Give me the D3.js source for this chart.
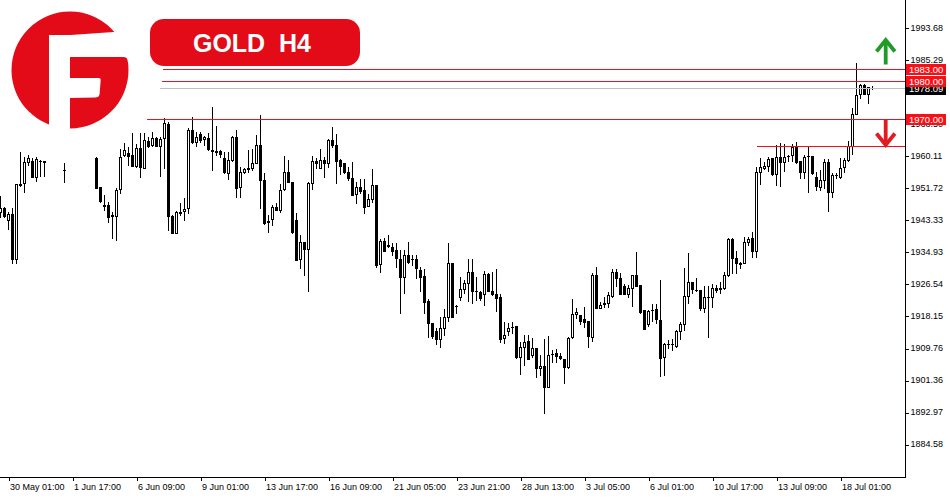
<!DOCTYPE html>
<html><head><meta charset="utf-8">
<script src="https://cdn.jsdelivr.net/npm/d3@7"></script>
<style>html,body{margin:0;padding:0;background:#fff;overflow:hidden}svg{display:block}</style>
</head><body><svg id="c" width="950" height="500"></svg>
<script>
// ---------- DATA ----------
const title = "GOLD  H4";
const firstBar = -2; // bar number of the first entry (bar 0 = 30 May 01:00)
const xTickBars = [0,16,32,48,64,80,96,112,128,144,160,176,192,208];
const xTickLabels = ["30 May 01:00","1 Jun 17:00","6 Jun 09:00","9 Jun 01:00","13 Jun 17:00","16 Jun 09:00","21 Jun 05:00","23 Jun 21:00","28 Jun 13:00","3 Jul 05:00","6 Jul 01:00","10 Jul 17:00","13 Jul 09:00","18 Jul 01:00"];
const yTickValues = [1884.58,1892.97,1901.36,1909.76,1918.15,1926.54,1934.93,1943.33,1951.72,1960.11,1968.50,1976.90,1985.29,1993.68];

const open = [
1945.5,1946.5,1943.4,1945.0,1933.2,1952.6,1953.1,1958.6,1958.8,1954.7,
1958.9,1958.8,null,null,null,null,1956.5,null,null,null,
null,null,null,null,1959.6,1952.0,1947.3,1947.3,1944.6,1944.5,
1951.5,1960.4,1960.9,1960.4,1957.5,1962.3,1957.0,1964.1,1963.0,1964.9,
1962.8,1964.9,1968.5,1944.5,1940.0,1945.5,1945.8,1946.5,1967.0,1963.8,
1965.9,1964.6,1964.9,1961.7,1961.5,1961.5,1959.6,1955.7,1959.1,1965.1,
1952.0,1956.0,1956.8,1957.0,1958.3,1963.0,1953.9,1943.1,1943.7,1946.8,
1946.0,1951.5,1956.0,1953.4,1943.4,1933.2,1937.6,1935.8,1953.1,1958.8,
1957.0,1959.1,1958.3,1964.3,1963.0,1959.1,1958.3,1956.0,1954.4,1950.2,
1952.0,1951.3,1947.1,1948.9,1952.6,1931.9,1937.9,1936.6,1936.3,1935.6,
1933.2,1928.5,1934.2,1933.2,1933.2,1930.3,1928.7,1922.2,1916.4,1914.3,
1912.3,1915.1,1918.0,1932.1,1920.9,1923.2,1925.3,1926.9,1929.8,1924.8,
1924.6,1924.0,1929.3,1924.8,1924.0,1923.2,1912.5,1914.3,1915.4,1915.7,
1907.5,1910.2,1911.7,1908.1,1909.9,1904.7,1905.2,1899.7,1908.3,1908.6,
1907.8,1907.0,1904.9,1912.8,1918.8,1918.5,1917.5,1917.0,1912.8,1929.0,
1920.4,1921.4,1921.7,1923.5,1929.8,1928.2,1926.1,1924.0,1925.6,1929.0,
1926.4,1919.8,1916.2,1919.9,1920.1,1917.2,1907.5,1911.0,1910.9,1910.4,
1914.3,1916.2,1923.5,1927.2,1925.1,1925.1,1920.4,1923.2,1923.2,1925.6,
1925.3,1925.6,1929.0,1938.4,1933.5,1932.1,1932.1,1937.6,1938.7,1935.3,
1956.0,1957.0,1957.5,1959.6,1955.4,1959.9,1958.6,1960.2,1960.4,1962.5,
1958.8,1956.0,1960.2,1960.2,1954.7,1952.0,1953.9,1958.6,1950.7,1955.2,
1954.7,1957.3,1959.1,1962.8,1971.2,1976.4,1978.7,1976.4,1978.0];

const high = [
1949.7,1946.8,1945.5,1946.5,1952.8,1961.2,1959.9,1960.4,1959.6,1959.9,
1959.1,1958.8,null,null,null,null,1958.3,null,null,null,
null,null,null,null,1959.9,1952.0,1949.9,1948.1,1945.5,1951.8,
1962.0,1963.6,1962.5,1966.2,1963.3,1966.2,1966.2,1965.1,1966.4,1965.1,
1965.1,1970.1,1969.1,1944.7,1945.8,1947.9,1949.2,1967.5,1970.4,1966.4,
1966.4,1965.4,1966.2,1973.0,1968.0,1961.7,1961.2,1961.2,1965.4,1967.0,
1957.3,1957.0,1961.7,1962.0,1965.7,1970.9,1955.7,1944.7,1947.3,1947.9,
1952.8,1960.2,1959.1,1953.4,1945.2,1939.5,1937.6,1953.4,1960.2,1959.6,
1962.0,1959.9,1964.6,1967.8,1965.9,1959.4,1958.3,1957.3,1958.6,1953.4,
1954.1,1954.1,1950.2,1956.8,1952.6,1938.4,1938.7,1939.5,1937.4,1937.4,
1935.6,1935.6,1937.6,1934.2,1934.2,1931.1,1930.6,1922.7,1916.4,1915.1,
1918.0,1920.1,1937.4,1932.1,1921.2,1928.5,1927.7,1933.2,1933.2,1928.5,
1924.8,1930.1,1929.5,1929.8,1930.6,1924.0,1916.7,1916.4,1916.7,1915.7,
1911.5,1913.3,1913.3,1912.5,1909.9,1908.1,1912.3,1913.0,1909.4,1909.6,
1908.6,1907.0,1912.8,1922.7,1920.4,1918.5,1920.6,1917.0,1929.5,1931.1,
1921.9,1923.2,1924.6,1930.6,1930.6,1929.5,1926.6,1926.4,1929.0,1935.0,
1926.4,1919.8,1919.8,1921.4,1921.4,1927.7,1911.2,1912.0,1912.3,1914.6,
1916.7,1930.8,1934.8,1927.2,1928.2,1925.1,1926.1,1926.1,1926.6,1926.4,
1927.2,1929.8,1938.7,1938.7,1935.3,1932.4,1939.0,1939.0,1940.3,1957.3,
1959.6,1958.6,1959.9,1959.6,1963.0,1963.6,1963.3,1960.4,1963.3,1963.8,
1958.8,1960.4,1962.5,1960.2,1956.0,1956.5,1959.4,1959.4,1955.7,1955.7,
1959.6,1959.6,1964.1,1972.7,1984.5,1979.0,1979.0,1978.2,1978.6];

const low = [
1944.2,1944.2,1941.0,1932.1,1932.1,1952.3,1950.7,1957.8,1954.7,1953.6,
1954.9,1954.9,null,null,null,null,1953.4,null,null,null,
null,null,null,null,1951.8,1948.1,1946.0,1942.9,1938.7,1938.2,
1950.5,1960.2,1957.8,1957.5,1957.3,1954.7,1957.0,1962.5,1962.8,1962.8,
1954.9,1957.0,1940.8,1940.0,1940.0,1944.7,1943.4,1945.2,1963.6,1962.8,
1963.8,1963.0,1961.7,1956.5,1960.4,1959.9,1955.7,1954.1,1958.8,1949.4,
1949.4,1955.7,1956.0,1956.5,1958.3,1946.5,1942.4,1940.3,1942.1,1946.0,
1945.5,1951.3,1953.4,1940.0,1932.9,1930.8,1929.0,1924.8,1951.5,1957.0,
1957.0,1954.7,1957.3,1962.5,1953.1,1955.4,1955.7,1953.9,1949.9,1947.9,
1950.5,1945.2,1947.1,1948.1,1931.1,1929.8,1935.3,1936.3,1934.2,1931.1,
1919.1,1924.3,1932.1,1931.6,1928.2,1924.8,1919.1,1912.8,1912.5,1910.9,
1910.2,1913.3,1917.0,1918.0,1919.1,1922.5,1924.3,1922.2,1921.7,1922.5,
1922.5,1921.2,1924.8,1923.8,1919.6,1911.5,1911.2,1913.3,1913.8,1907.3,
1903.1,1905.4,1907.0,1907.5,1902.3,1902.8,1892.9,1899.7,1906.2,1906.2,
1907.0,1900.7,1904.7,1912.5,1917.7,1916.2,1915.4,1910.2,1911.7,1920.4,
1920.4,1920.6,1920.6,1923.2,1926.1,1924.0,1924.0,1923.2,1920.9,1926.1,
1919.1,1914.9,1915.7,1917.0,1916.4,1902.6,1902.8,1909.9,1909.4,1910.2,
1912.3,1914.6,1921.7,1924.3,1924.8,1919.8,1919.3,1912.8,1920.6,1924.6,
1924.3,1925.3,1928.7,1929.5,1929.5,1930.8,1932.1,1936.9,1933.7,1933.7,
1952.8,1956.8,1956.2,1955.2,1952.6,1952.3,1956.2,1958.8,1958.8,1958.3,
1954.4,1954.4,1950.7,1955.4,1951.3,1951.3,1951.8,1945.8,1949.4,1954.4,
1954.4,1956.0,1958.8,1960.7,1971.2,1975.3,1976.4,1974.0,1977.7];

const close = [
1946.5,1944.5,1945.0,1933.2,1952.8,1952.8,1958.6,1959.6,1954.7,1959.4,
1958.8,1958.7,null,null,null,null,1956.4,null,null,null,
null,null,null,null,1951.8,1948.4,1947.2,1944.2,1944.5,1951.3,
1959.9,1961.7,1960.2,1957.5,1962.3,1957.3,1964.3,1962.8,1964.9,1962.8,
1964.6,1968.8,1944.5,1940.0,1945.5,1945.3,1946.3,1967.0,1963.8,1965.1,
1964.3,1965.1,1962.0,1961.6,1961.2,1960.7,1956.0,1959.1,1965.1,1951.8,
1956.0,1956.8,1957.0,1958.3,1963.0,1953.9,1942.6,1942.9,1946.8,1946.0,
1951.3,1956.0,1953.4,1940.3,1932.9,1937.6,1935.8,1953.1,1958.8,1958.3,
1959.1,1958.3,1964.3,1963.0,1958.8,1957.5,1956.0,1954.4,1949.9,1952.0,
1951.0,1946.8,1948.9,1952.6,1931.6,1937.9,1935.3,1936.9,1935.3,1933.5,
1928.5,1934.2,1932.4,1933.1,1930.8,1928.5,1921.9,1916.4,1913.0,1912.3,
1915.1,1918.0,1932.1,1918.0,1920.8,1925.3,1926.9,1929.8,1924.8,1924.7,
1923.0,1929.3,1924.8,1924.0,1923.0,1912.3,1913.3,1915.1,1915.5,1907.5,
1910.2,1911.5,1907.0,1909.9,1904.7,1905.2,1899.7,1908.1,1908.2,1907.8,
1907.3,1904.9,1912.5,1918.8,1919.3,1917.0,1916.7,1913.0,1929.0,1920.4,
1921.2,1921.7,1923.8,1929.8,1928.2,1924.0,1924.0,1925.6,1929.0,1926.1,
1919.3,1914.9,1919.6,1919.8,1917.5,1907.3,1910.9,1910.9,1911.0,1914.3,
1916.2,1923.5,1927.2,1925.3,1925.0,1920.4,1923.2,1923.3,1925.6,1925.1,
1925.6,1929.0,1938.4,1933.5,1932.1,1932.0,1937.6,1938.4,1935.3,1956.0,
1957.3,1957.5,1959.4,1955.4,1959.9,1958.6,1959.9,1960.1,1962.5,1958.6,
1956.0,1959.9,1960.1,1955.7,1952.3,1953.9,1958.6,1950.7,1955.2,1955.1,
1957.0,1959.1,1962.8,1971.2,1976.1,1978.7,1976.4,1978.2,1978.09];

const levelPrices = [1983.00, 1980.00, 1970.00];
const bidPrice = 1978.09;
const zonePrice = 1962.9;

// ---------- DRAWING ----------
const RED = "#e30b17", BOXRED = "#f80f17";
const FONT = "'Liberation Sans', Arial, sans-serif";
const svg = d3.select("#c");
svg.append("rect").attr("width",950).attr("height",500).attr("fill","#fff");

const x = d3.scaleLinear().domain([0, 208]).range([8.5, 840.5]);
const y = d3.scaleLinear().domain([1884.58, 1960.11]).range([444.7, 156.2]);
const AXIS_X = 905.5, AXIS_Y = 477.5;

// Logo
const logo = svg.append("g");
logo.append("circle").attr("cx",70).attr("cy",70).attr("r",58.5).attr("fill",RED);
logo.append("rect").attr("x",49).attr("y",35).attr("width",21).attr("height",100).attr("fill","#fff");
logo.append("path").attr("d","M49,36.5 L135,30.5 L135,57 L49,57 Z").attr("fill","#fff");
logo.append("path").attr("d","M69,78 L99,78 Q101,78 100.6,81 L99.6,94 Q99.2,97.5 95,97.6 L69,98 Z").attr("fill","#fff");
logo.append("path").attr("d","M123,57 L128,57 L128,62 Q128,57 123,57 Z").attr("fill","#fff");

// Title
svg.append("rect").attr("x",150).attr("y",19).attr("width",210).attr("height",47).attr("rx",14).attr("fill",RED);
svg.append("text").attr("x",252).attr("y",52).attr("text-anchor","middle")
  .attr("font-family",FONT).attr("font-weight","bold").attr("font-size",25)
  .attr("fill","#fff").style("white-space","pre").text(title);

// Candles
const bars = open.map((o,i)=>({n:i+firstBar,o:o,h:high[i],l:low[i],c:close[i]})).filter(d=>d.o!=null);
const cg = svg.append("g").attr("shape-rendering","crispEdges");
bars.forEach(d=>{
  const cx = x(d.n);
  cg.append("line").attr("x1",cx).attr("x2",cx)
    .attr("y1",Math.round(y(d.h))).attr("y2",Math.round(y(d.l))+1)
    .attr("stroke","#000").attr("stroke-width",1);
  const top = Math.round(y(Math.max(d.o,d.c))), bot = Math.round(y(Math.min(d.o,d.c)));
  if (bot - top < 1) {
    cg.append("line").attr("x1",cx-1.5).attr("x2",cx+1.5).attr("y1",top+0.5).attr("y2",top+0.5)
      .attr("stroke","#000").attr("stroke-width",1);
  } else {
    cg.append("rect").attr("x",cx-1).attr("y",top+0.5).attr("width",2).attr("height",bot-top)
      .attr("fill", d.c>=d.o ? "#fff" : "#000").attr("stroke","#000").attr("stroke-width",1);
  }
});

// Horizontal levels
const lg = svg.append("g").attr("shape-rendering","crispEdges");
const py = p => Math.ceil(y(p)) + 0.5;
const levelStarts = [163,162,147];
levelPrices.forEach((p,i)=>{
  lg.append("line").attr("x1",levelStarts[i]).attr("x2",AXIS_X).attr("y1",py(p)).attr("y2",py(p))
    .attr("stroke","#f01018").attr("stroke-width",1);
});
lg.append("line").attr("x1",160).attr("x2",AXIS_X).attr("y1",py(bidPrice)).attr("y2",py(bidPrice))
  .attr("stroke","#c0c0c0").attr("stroke-width",1);
lg.append("line").attr("x1",757).attr("x2",AXIS_X).attr("y1",py(zonePrice)).attr("y2",py(zonePrice))
  .attr("stroke","#f01018").attr("stroke-width",1);

// Axes
const yAxis = d3.axisRight(y).tickValues(yTickValues).tickFormat(d=>d.toFixed(2)).tickSize(3).tickPadding(2);
const ya = svg.append("g").attr("transform",`translate(${AXIS_X},0)`).call(yAxis);
const xAxis = d3.axisBottom(x).tickValues(xTickBars).tickFormat((d,i)=>xTickLabels[i]).tickSize(3).tickPadding(3);
const xa = svg.append("g").attr("transform",`translate(0,${AXIS_Y})`).call(xAxis);
[ya,xa].forEach(g=>{
  g.select(".domain").remove();
  g.attr("font-family",FONT).attr("font-size",9);
  g.selectAll("line").attr("stroke","#000").attr("shape-rendering","crispEdges");
  g.selectAll("text").attr("fill","#000");
});
ya.selectAll("text").attr("dy","0.25em");
xa.selectAll("text").attr("text-anchor","start").attr("dx",1);
svg.append("line").attr("x1",AXIS_X).attr("x2",AXIS_X).attr("y1",0).attr("y2",AXIS_Y)
  .attr("stroke","#000").attr("shape-rendering","crispEdges");
svg.append("line").attr("x1",0).attr("x2",AXIS_X).attr("y1",AXIS_Y).attr("y2",AXIS_Y)
  .attr("stroke","#000").attr("shape-rendering","crispEdges");

// Price boxes
function priceBox(p, fill, h0, h1){
  const cy = Math.ceil(y(p));
  svg.append("rect").attr("x",906).attr("y",cy-h0).attr("width",40).attr("height",h0+h1)
    .attr("fill",fill).attr("shape-rendering","crispEdges");
  svg.append("text").attr("x",909).attr("y",cy+0.5).attr("dy","0.35em")
    .attr("font-family",FONT).attr("font-size",9.5).attr("fill","#fff").text(p.toFixed(2));
}
priceBox(bidPrice, "#000", 6, 7);
levelPrices.forEach(p=>priceBox(p, BOXRED, 5, 6));

// Arrows
const ag = svg.append("g").attr("fill","none").attr("stroke-width",3.8).attr("stroke-linejoin","miter");
ag.append("path").attr("d","M885.7,64.5 V41").attr("stroke","#1e9c28");
ag.append("path").attr("d","M876.5,51.5 L885.7,40 L894.9,51.5").attr("stroke","#1e9c28");
ag.append("path").attr("d","M885.7,119 V143").attr("stroke","#e21a22");
ag.append("path").attr("d","M876.5,133.5 L885.7,145 L894.9,133.5").attr("stroke","#e21a22");
</script></body></html>
